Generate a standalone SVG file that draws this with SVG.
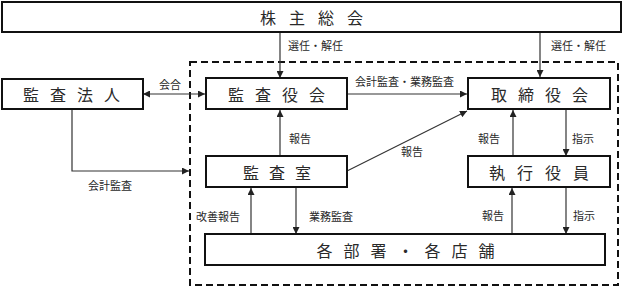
<svg xmlns="http://www.w3.org/2000/svg" width="624" height="287" viewBox="0 0 624 287">
<defs>
<marker id="ah" viewBox="0 0 8 8" refX="8" refY="4" markerWidth="7" markerHeight="7" markerUnits="userSpaceOnUse" orient="auto-start-reverse">
<path d="M0,0 L8,4 L0,8 z" fill="#222"/>
</marker>
<style>
.box{fill:#fff;stroke:#111;stroke-width:2}
.bt{font-family:"Noto Sans CJK JP","Noto Sans",sans-serif;font-size:16px;fill:#2a2a2a;text-anchor:middle;dominant-baseline:central}
.lb{font-family:"Noto Sans CJK JP","Noto Sans",sans-serif;font-size:11px;fill:#2a2a2a;dominant-baseline:central}
.cn{fill:none;stroke:#333;stroke-width:1.2}
.dash{fill:none;stroke:#111;stroke-width:2;stroke-dasharray:7 4}
</style>
</defs>
<rect class="dash" x="190" y="62" width="428" height="223"/>
<g id="connectors">
<line class="cn" x1="280" y1="32" x2="280" y2="78" marker-end="url(#ah)"/>
<line class="cn" x1="540" y1="32" x2="540" y2="77" marker-end="url(#ah)"/>
<line class="cn" x1="143" y1="94" x2="205" y2="94" marker-start="url(#ah)" marker-end="url(#ah)"/>
<polyline class="cn" points="72,110 72,171 189,171" marker-end="url(#ah)"/>
<line class="cn" x1="347" y1="94" x2="467" y2="94" marker-end="url(#ah)"/>
<line class="cn" x1="280" y1="156" x2="280" y2="110" marker-end="url(#ah)"/>
<line class="cn" x1="347" y1="171" x2="467" y2="111" marker-end="url(#ah)"/>
<line class="cn" x1="513" y1="156" x2="513" y2="110" marker-end="url(#ah)"/>
<line class="cn" x1="566" y1="110" x2="566" y2="156" marker-end="url(#ah)"/>
<line class="cn" x1="251" y1="234" x2="251" y2="188" marker-end="url(#ah)"/>
<line class="cn" x1="296" y1="188" x2="296" y2="234" marker-end="url(#ah)"/>
<line class="cn" x1="512" y1="234" x2="512" y2="188" marker-end="url(#ah)"/>
<line class="cn" x1="566" y1="188" x2="566" y2="234" marker-end="url(#ah)"/>
<text class="lb" x="288" y="45">選任・解任</text>
<text class="lb" x="551" y="45">選任・解任</text>
<text class="lb" x="159" y="84">会合</text>
<text class="lb" x="355" y="81">会計監査・業務監査</text>
<text class="lb" x="289" y="138">報告</text>
<text class="lb" x="401" y="151">報告</text>
<text class="lb" x="478" y="138">報告</text>
<text class="lb" x="572" y="138">指示</text>
<text class="lb" x="88" y="185">会計監査</text>
<text class="lb" x="196" y="216">改善報告</text>
<text class="lb" x="309" y="216">業務監査</text>
<text class="lb" x="482" y="215">報告</text>
<text class="lb" x="573" y="215">指示</text>
</g>
<g id="shareholders">
<rect class="box" x="2" y="2" width="619" height="30"/>
<text class="bt" x="318" y="17" font-size="17" letter-spacing="13">株主総会</text>
</g>
<g id="audit-firm">
<rect class="box" x="2" y="79" width="141" height="30"/>
<text class="bt" x="77" y="94" letter-spacing="11">監査法人</text>
</g>
<g id="audit-board">
<rect class="box" x="206" y="78" width="141" height="31"/>
<text class="bt" x="282" y="94" letter-spacing="11">監査役会</text>
</g>
<g id="board">
<rect class="box" x="468" y="78" width="142" height="31"/>
<text class="bt" x="545" y="94" letter-spacing="11">取締役会</text>
</g>
<g id="audit-office">
<rect class="box" x="206" y="156" width="141" height="31"/>
<text class="bt" x="282" y="172" letter-spacing="10">監査室</text>
</g>
<g id="executives">
<rect class="box" x="468" y="156" width="142" height="31"/>
<text class="bt" x="545" y="172" letter-spacing="12">執行役員</text>
</g>
<g id="departments">
<rect class="box" x="205" y="234" width="400" height="31"/>
<text class="bt" x="411" y="250" letter-spacing="11">各部署・各店舗</text>
</g>
</svg>
